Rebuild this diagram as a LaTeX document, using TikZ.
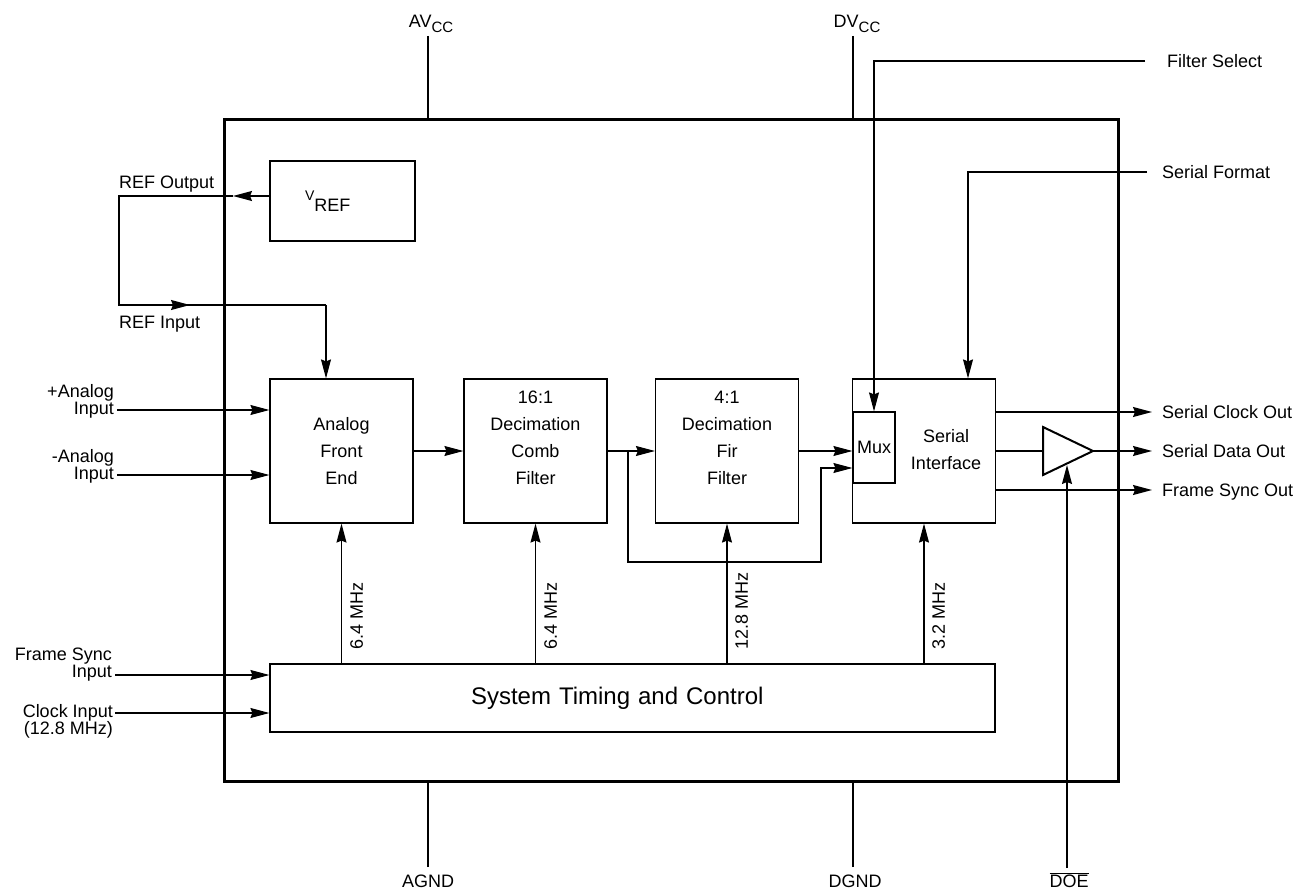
\documentclass[tikz,border=0pt]{standalone}
\usepackage{fontspec}
\setmainfont{Liberation Sans}
\usetikzlibrary{arrows.meta,calc}
\begin{document}
\begin{tikzpicture}[x=1pt,y=-1pt,
  every node/.style={font=\fontsize{18}{27}\selectfont, inner sep=0pt},
  wire/.style={line width=1.2pt},
  blk/.style={draw, wire, minimum width=143pt, minimum height=144pt, align=center},
  arr/.style={wire, -{Stealth[length=19pt,width=10pt,inset=2pt]}},
  lbl/.style={font=\fontsize{18}{17}\selectfont, align=right, anchor=east},
  freq/.style={rotate=90, anchor=north west},
  ]
\useasboundingbox (0,0) rectangle (1304,890);

% chip outline
\node[draw, line width=3pt, minimum width=894pt, minimum height=661pt] (chip) at (671,450.5) {};

% blocks
\node[draw, wire, minimum width=145pt, minimum height=80pt, text width=75pt, inner xsep=35pt, align=left] (vref) at (342.5,201) {\raisebox{11pt}{\fontsize{14}{14}\selectfont V}REF};
\node[blk] (afe) at (341.5,451) {Analog\\Front\\End};
\node[blk, text height=94pt, text depth=27pt] (comb) at (535.5,451) {16:1\\Decimation\\Comb\\Filter};
\node[blk, text height=94pt, text depth=27pt] (fir) at (727,451) {4:1\\Decimation\\Fir\\Filter};
\node[blk] (si) at (924,451) {};
\node[align=center] (sitxt) at (946,450) {Serial\\Interface};
\node[draw, wire, minimum width=42pt, minimum height=71pt] (mux) at (874,447.5) {Mux};
\node[draw, wire, minimum width=725pt, minimum height=68pt, inner xsep=201pt, text width=323pt, align=left, font=\fontsize{24}{28}\selectfont] (stc) at (632.5,698) {System Timing and Control};

% output buffer
\coordinate (tl) at (1043,451);
\coordinate (ta) at (1043,427);
\coordinate (tb) at (1043,475);
\coordinate (tr) at (1093,451);
\draw[line width=2pt, line join=miter] (ta) -- (tr) -- (tb) -- cycle;

% REF loop
\coordinate (refa) at (233,196);
\coordinate (ro) at (119,196);
\coordinate (ri) at (119,305);
\coordinate (refb) at (190,305);
\coordinate (rc) at (326,305);
\draw[arr] (vref.west |- refa) -- (refa);
\draw[wire] (refa) -- (ro) -- (ri) -- (rc);
\draw[arr] (ri) -- (refb);
\draw[arr] (rc) -- (rc |- afe.north);
\node[anchor=base west] (reflo) at (119,189) {REF Output};
\node[anchor=base west] (refli) at (119,329) {REF Input};

% analog inputs
\coordinate (inp) at (117,410);
\coordinate (inn) at (117,475);
\draw[arr] (inp) -- (inp -| afe.west);
\draw[arr] (inn) -- (inn -| afe.west);
\node[lbl] (linp) at (114,401) {+Analog\\Input};
\node[lbl] (linn) at (114,466) {-Analog\\Input};

% timing inputs
\coordinate (fsi) at (115,675);
\coordinate (cki) at (115,713);
\draw[arr] (fsi) -- (fsi -| stc.west);
\draw[arr] (cki) -- (cki -| stc.west);
\node[lbl] (lfsi) at (112,665) {Frame Sync\\Input};
\node[lbl] (lcki) at (113,721) {Clock Input\\(12.8 MHz)};

% signal chain
\draw[arr] (afe.east) -- (comb.west);
\draw[arr] (comb.east) -- (fir.west);
\draw[arr] (fir.east) -- (fir.east -| mux.west);
\coordinate (br) at (628,451);
\coordinate (b1) at (628,562);
\coordinate (b2) at (821,562);
\coordinate (b3) at (821,468);
\draw[arr] (br) -- (b1) -- (b2) -- (b3) -- (b3 -| mux.west);

% clocks
\draw[arr] (afe.south |- stc.north) -- (afe.south);
\draw[arr] (comb.south |- stc.north) -- (comb.south);
\draw[arr] (fir.south |- stc.north) -- (fir.south);
\draw[arr] (si.south |- stc.north) -- (si.south);
\node[freq] (f1) at (350,650) {6.4 MHz};
\node[freq] (f2) at (544,650) {6.4 MHz};
\node[freq] (f3) at (735,650) {12.8 MHz};
\node[freq] (f4) at (932,650) {3.2 MHz};

% control inputs
\coordinate (fs) at (1145,61);
\draw[arr] (fs) -- (fs -| mux.north) -- (mux.north);
\node[anchor=base west] (lfs) at (1167,67.5) {Filter Select};
\coordinate (sf) at (1147,172);
\coordinate (sfx) at (968,172);
\draw[arr] (sf) -- (sfx) -- (sfx |- si.north);
\node[anchor=base west] (lsf) at (1162,178.5) {Serial Format};

% outputs
\coordinate (sco) at (1152,412);
\coordinate (sdo) at (1152,451);
\coordinate (fso) at (1152,490);
\draw[arr] (sco -| si.east) -- (sco);
\draw[wire] (si.east) -- (tl);
\draw[arr] (tr) -- (sdo);
\draw[arr] (fso -| si.east) -- (fso);
\node[anchor=base west] (lsco) at (1162,418.5) {Serial Clock Out};
\node[anchor=base west] (lsdo) at (1162,457.5) {Serial Data Out};
\node[anchor=base west] (lfso) at (1162,496.5) {Frame Sync Out};

% DOE
\coordinate (doe) at (1067,868);
\coordinate (doet) at (1067,465);
\draw[arr] (doe) -- (doet);
\node[anchor=base] (ldoe) at (1069,887) {$\overline{\mbox{DOE}}$};

% supplies and grounds
\coordinate (avcc) at (428,36);
\coordinate (dvcc) at (853,36);
\coordinate (agnd) at (428,867);
\coordinate (dgnd) at (853,867);
\draw[wire] (avcc) -- (avcc |- chip.north);
\draw[wire] (dvcc) -- (dvcc |- chip.north);
\draw[wire] (agnd) -- (agnd |- chip.south);
\draw[wire] (dgnd) -- (dgnd |- chip.south);
\node[anchor=base] (lavcc) at (431,28) {AV\raisebox{-5pt}{\fontsize{15}{15}\selectfont CC}};
\node[anchor=base] (ldvcc) at (857,28) {DV\raisebox{-5pt}{\fontsize{15}{15}\selectfont CC}};
\node[anchor=base] (lagnd) at (428,887) {AGND};
\node[anchor=base] (ldgnd) at (855,887) {DGND};
\end{tikzpicture}
\end{document}
